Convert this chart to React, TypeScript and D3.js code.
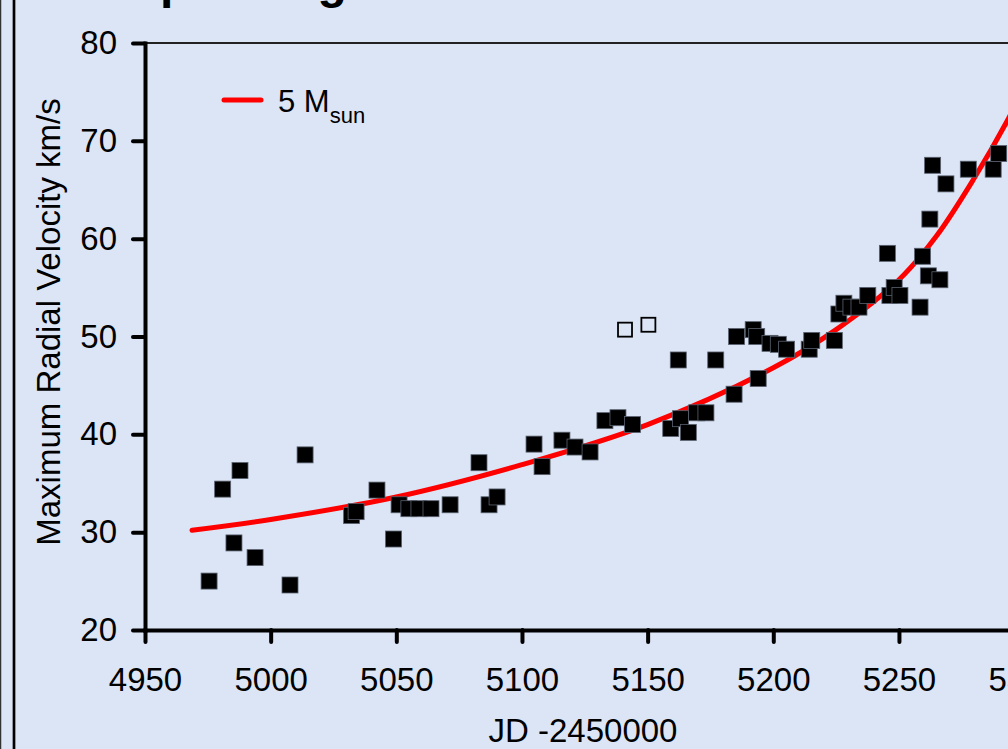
import React, { useEffect, useRef } from "react";
import * as d3 from "d3";

// observed maximum radial velocities (filled squares)
const obsJd = [
  4975.5, 4980.9, 4985.4, 4987.8, 4993.8, 5007.7, 5013.7, 5032.2, 5034.0, 5042.3,
  5048.9, 5051.1, 5055.0, 5059.0, 5063.8, 5071.4, 5082.9, 5086.9, 5090.1, 5104.8,
  5108.0, 5115.9, 5121.1, 5127.1, 5133.0, 5138.2, 5144.0, 5159.2, 5162.2, 5163.1,
  5166.2, 5169.5, 5173.2, 5177.1, 5184.4, 5185.4, 5192.0, 5193.4, 5194.0, 5198.7,
  5202.0, 5205.3, 5214.3, 5215.3, 5224.3, 5226.1, 5228.1, 5230.9, 5234.1, 5237.6,
  5245.4, 5246.4, 5248.1, 5250.4, 5258.4, 5259.4, 5261.7, 5266.3, 5262.3, 5263.4,
  5268.7, 5277.6, 5287.5, 5289.7,
];
const obsVel = [
  25.0, 34.4, 28.9, 36.3, 27.4, 24.6, 37.9, 31.7, 32.1, 34.3,
  29.3, 32.8, 32.4, 32.4, 32.4, 32.8, 37.1, 32.8, 33.6, 39.0,
  36.7, 39.4, 38.7, 38.2, 41.4, 41.7, 41.0, 40.6, 47.6, 41.6,
  40.2, 42.2, 42.2, 47.6, 44.1, 50.0, 50.7, 50.0, 45.7, 49.3,
  49.2, 48.7, 48.7, 49.6, 49.6, 52.3, 53.4, 53.0, 53.0, 54.2,
  58.5, 54.2, 55.0, 54.2, 53.0, 58.2, 56.2, 55.8, 62.0, 67.5,
  65.6, 67.1, 67.1, 68.7,
];

// excluded points (open squares)
const openJd = [5141.0, 5150.3];
const openVel = [50.7, 51.2];

// 5 Msun model curve
const modelJd = [4968.7, 5000, 5050, 5100, 5150, 5200, 5225, 5250, 5265, 5280, 5293, 5300];
const modelVel = [30.2, 31.3, 33.6, 36.9, 41.0, 46.8, 50.7, 55.8, 60.3, 66.2, 72.0, 75.6];

const xTicks = [4950, 5000, 5050, 5100, 5150, 5200, 5250, 5300];
const yTicks = [20, 30, 40, 50, 60, 70, 80];

const W = 1008;
const H = 749;
const FONT = "'Liberation Sans', Arial, sans-serif";

const App = () => {
  const ref = useRef<SVGSVGElement | null>(null);

  useEffect(() => {
    const svg = d3.select(ref.current);
    svg.selectAll("*").remove();

    const x = d3.scaleLinear().domain([4950, 5300]).range([145, 1024.6]);
    const y = d3.scaleLinear().domain([20, 80]).range([630, 43]);

    svg.append("rect").attr("width", W).attr("height", H).attr("fill", "#dce5f5");

    // slide frame on the left
    svg.append("line").attr("x1", 0.5).attr("x2", 0.5).attr("y1", 0).attr("y2", H)
      .attr("stroke", "#333").attr("stroke-width", 1.5);
    svg.append("line").attr("x1", 14).attr("x2", 14).attr("y1", 0).attr("y2", H)
      .attr("stroke", "#000").attr("stroke-width", 2.7);

    // title, mostly cut off at the top
    svg.append("text").attr("x", 128).attr("y", -2)
      .attr("font-family", FONT).attr("font-weight", "bold").attr("font-size", 48)
      .attr("fill", "#000").text("Spiralling in");

    // plot frame top / right
    svg.append("path")
      .attr("d", `M${x(4950)},${y(80)}H${x(5300)}V${y(20)}`)
      .attr("fill", "none").attr("stroke", "#222").attr("stroke-width", 1.8);

    const xAxis = svg.append("g")
      .attr("transform", `translate(0,${y(20)})`)
      .call(d3.axisBottom(x).tickValues(xTicks).tickSize(12).tickSizeOuter(0).tickPadding(26)
        .tickFormat(d3.format("d")));
    const yAxis = svg.append("g")
      .attr("transform", `translate(${x(4950)},0)`)
      .call(d3.axisLeft(y).tickValues(yTicks).tickSize(12).tickSizeOuter(0).tickPadding(16));

    [xAxis, yAxis].forEach((g) => {
      g.select(".domain").attr("stroke", "#000").attr("stroke-width", 4)
        .attr("stroke-linecap", "square");
      g.selectAll(".tick line").attr("stroke", "#000").attr("stroke-width", 4)
        .attr("stroke-linecap", "round");
      g.selectAll(".tick text").attr("font-family", FONT).attr("font-size", 33)
        .attr("fill", "#000");
    });

    // model curve
    const line = d3.line<number>()
      .x((d, i) => x(modelJd[i]))
      .y((d) => y(d))
      .curve(d3.curveCatmullRom);
    svg.append("path")
      .attr("d", line(modelVel))
      .attr("fill", "none").attr("stroke", "#ff0000").attr("stroke-width", 5)
      .attr("stroke-linecap", "round");

    // filled squares
    const s = 16;
    svg.append("g").selectAll("rect")
      .data(obsVel)
      .enter().append("rect")
      .attr("x", (d, i) => x(obsJd[i]) - s / 2)
      .attr("y", (d) => y(d) - s / 2)
      .attr("width", s).attr("height", s)
      .attr("fill", "#000").attr("stroke", "#5a6270").attr("stroke-width", 0.8);

    // open squares
    const so = 14;
    svg.append("g").selectAll("rect")
      .data(openVel)
      .enter().append("rect")
      .attr("x", (d, i) => x(openJd[i]) - so / 2)
      .attr("y", (d) => y(d) - so / 2)
      .attr("width", so).attr("height", so)
      .attr("fill", "none").attr("stroke", "#000").attr("stroke-width", 1.8);

    // legend
    svg.append("line").attr("x1", 224).attr("x2", 261).attr("y1", 100).attr("y2", 100)
      .attr("stroke", "#ff0000").attr("stroke-width", 5).attr("stroke-linecap", "round");
    const lt = svg.append("text").attr("x", 278).attr("y", 112)
      .attr("font-family", FONT).attr("font-size", 31).attr("fill", "#000");
    lt.append("tspan").text("5 M");
    lt.append("tspan").attr("dy", 11).attr("font-size", 22).text("sun");

    // axis titles
    svg.append("text")
      .attr("x", 583).attr("y", 742).attr("text-anchor", "middle")
      .attr("font-family", FONT).attr("font-size", 33).attr("fill", "#000")
      .text("JD -2450000");
    svg.append("text")
      .attr("transform", `translate(60,322) rotate(-90)`).attr("text-anchor", "middle")
      .attr("font-family", FONT).attr("font-size", 33).attr("fill", "#000")
      .text("Maximum Radial Velocity km/s");
  }, []);

  return (
    <div style={{ position: "fixed", left: 0, top: 0 }}>
      <svg ref={ref} width={W} height={H} style={{ display: "block" }}></svg>
    </div>
  );
};

export default App;
